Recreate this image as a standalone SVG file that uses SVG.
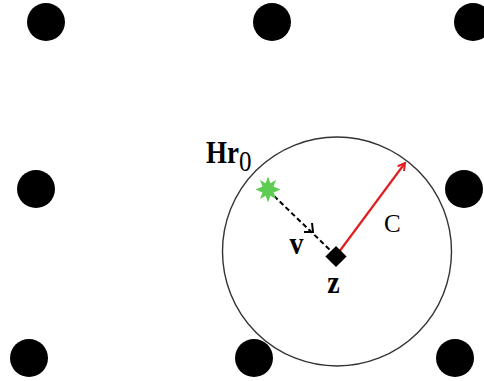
<svg xmlns="http://www.w3.org/2000/svg" width="484" height="381" viewBox="0 0 484 381">
<defs>
<style>
.dot{fill:#000}
.lbl{font-family:"Liberation Serif","Times New Roman",serif;fill:#000}
.b{font-weight:bold}
</style>
<marker id="redhead" markerWidth="10" markerHeight="10" refX="8" refY="5" orient="auto" markerUnits="userSpaceOnUse">
<path d="M1,1 L8,5 L1,9" fill="none" stroke="#e02020" stroke-width="2"/>
</marker>
</defs>
<rect width="484" height="381" fill="#fff"/>
<g id="lattice">
<circle class="dot" cx="46" cy="22" r="19"/>
<circle class="dot" cx="272" cy="22" r="19"/>
<circle class="dot" cx="473" cy="22" r="19"/>
<circle class="dot" cx="36" cy="189" r="19"/>
<circle class="dot" cx="464" cy="189" r="19"/>
<circle class="dot" cx="29" cy="358" r="19"/>
<circle class="dot" cx="254" cy="358" r="19"/>
<circle class="dot" cx="455" cy="358" r="19"/>
</g>
<g id="region">
<circle cx="337" cy="251.5" r="114.5" fill="none" stroke="#333" stroke-width="1.4"/>
<text class="lbl b" x="206" y="163" font-size="27" transform="translate(0,163) scale(1,1.18) translate(0,-163)">Hr<tspan class="lbl" font-weight="normal" font-size="25" dy="7">0</tspan></text>
</g>
<g id="connectors">
<line x1="274" y1="196" x2="330" y2="250" stroke="#000" stroke-width="2" stroke-dasharray="5,3"/>
<path d="M304,232 L313,232 L312,223" fill="none" stroke="#000" stroke-width="2"/>
<line x1="336" y1="256" x2="405" y2="163" stroke="#e02020" stroke-width="2.2" marker-end="url(#redhead)"/>
</g>
<g id="source">
<polygon fill="#5ccc52" points="268,176.5 270.3,183.3 276,180 273.5,186.5 280.5,189.5 273.5,192.5 276,199 270.3,195.7 268,202.5 265.7,195.7 260,199 262.5,192.5 255.5,189.5 262.5,186.5 260,180 265.7,183.3"/>
</g>
<g id="z">
<rect x="328.5" y="249" width="15" height="15" fill="#000" transform="rotate(45 336 256.5)"/>
<text class="lbl b" x="333.5" y="293" font-size="28" text-anchor="middle" transform="translate(0,293) scale(1,1.1) translate(0,-293)">z</text>
</g>
<text class="lbl b" x="296.5" y="254" font-size="28" text-anchor="middle" transform="translate(0,254) scale(1,1.1) translate(0,-254)">v</text>
<text class="lbl" x="384" y="231.5" font-size="25">C</text>
</svg>
